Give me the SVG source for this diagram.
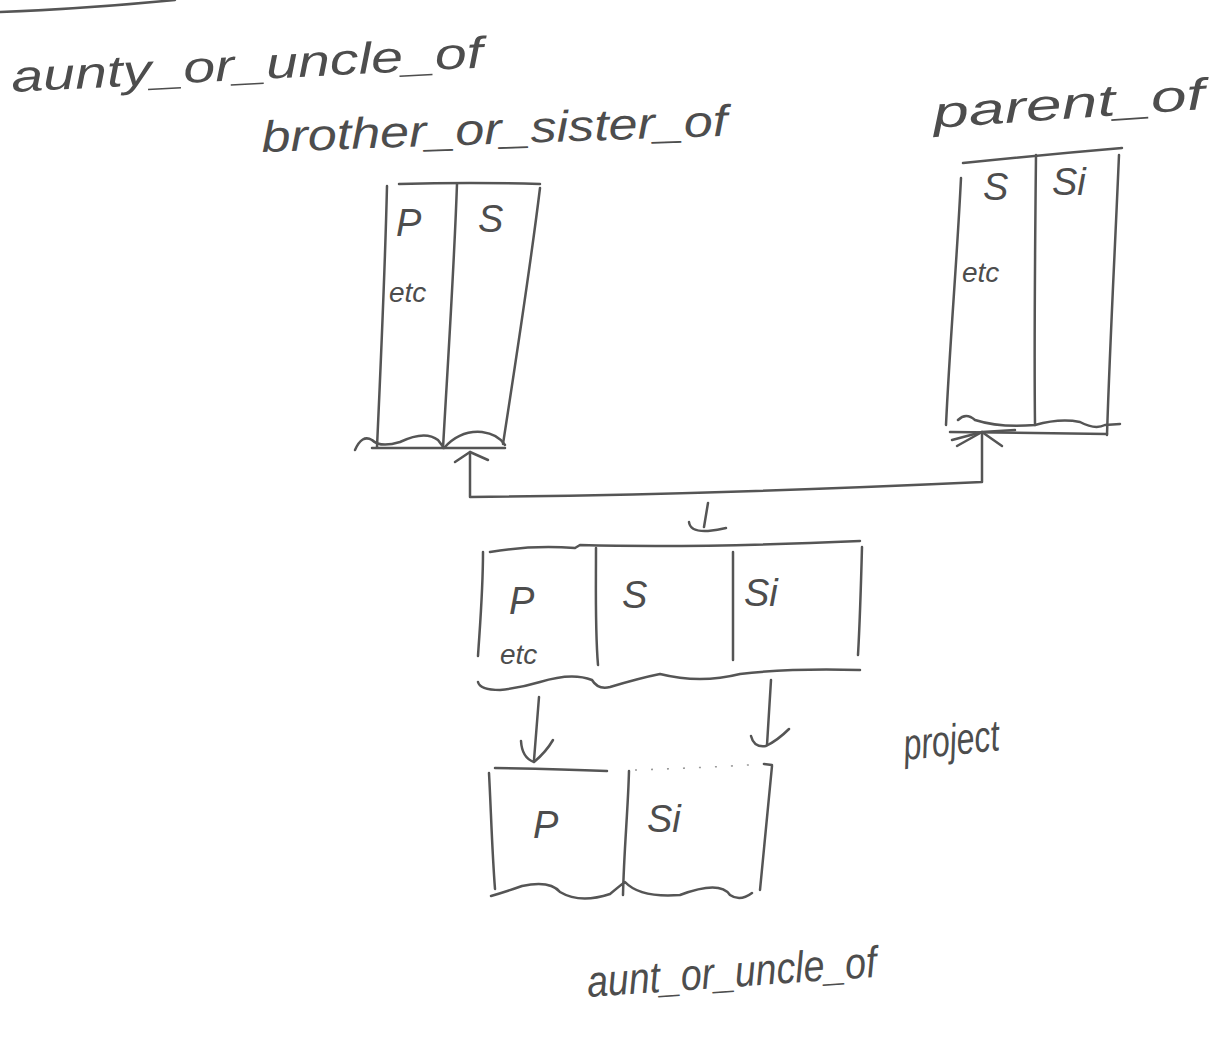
<svg xmlns="http://www.w3.org/2000/svg" width="1213" height="1048" viewBox="0 0 1213 1048">
  <style>
    .ink { fill: none; stroke: #555555; stroke-width: 2.5; stroke-linecap: round; stroke-linejoin: round; }
    .dot { fill: none; stroke: #9a9a9a; stroke-width: 1.6; stroke-dasharray: 2 14; }
    .hand { font-family: "Liberation Sans", "DejaVu Sans", sans-serif; font-style: italic; fill: #4d4d4d; }
    .title { font-size: 44px; }
    .cell { font-size: 38px; }
    .small { font-size: 28px; }
  </style>
  <rect width="1213" height="1048" fill="#ffffff"/>

  <!-- stray rule at the top -->
  <path class="ink" d="M 0 12 Q 80 9 175 0"/>

  <!-- headings -->
  <text class="hand title" x="12" y="92" textLength="472" lengthAdjust="spacingAndGlyphs" transform="rotate(-3 12 92)">aunty_or_uncle_of</text>

  <g id="brother_or_sister_of">
    <text class="hand title" x="262" y="152" textLength="466" lengthAdjust="spacingAndGlyphs" transform="rotate(-2 262 152)">brother_or_sister_of</text>
    <path class="ink" d="M 387 186 C 385 270 381 360 377 447"/>
    <path class="ink" d="M 399 184 Q 470 182 540 184"/>
    <path class="ink" d="M 457 184 C 454 270 448 360 443 448"/>
    <path class="ink" d="M 540 188 C 530 270 516 360 503 444"/>
    <path class="ink" d="M 355 450 Q 362 434 372 440 Q 380 448 400 442 Q 425 430 438 440 L 444 448 Q 460 430 482 432 Q 498 434 505 445"/>
    <path class="ink" d="M 372 448 L 505 448"/>
    <text class="hand cell" x="396" y="236">P</text>
    <text class="hand cell" x="478" y="232">S</text>
    <text class="hand small" x="389" y="302">etc</text>
  </g>

  <g id="parent_of">
    <text class="hand title" x="934" y="128" textLength="272" lengthAdjust="spacingAndGlyphs" transform="rotate(-4 934 128)">parent_of</text>
    <path class="ink" d="M 963 163 Q 1040 155 1122 148"/>
    <path class="ink" d="M 961 178 C 957 260 950 340 946 425"/>
    <path class="ink" d="M 1036 155 C 1035 250 1034 340 1035 425"/>
    <path class="ink" d="M 1119 155 C 1115 250 1110 340 1107 435"/>
    <path class="ink" d="M 958 420 Q 966 412 975 420 Q 1000 428 1035 425 Q 1060 418 1080 422 Q 1095 430 1105 425 L 1120 424"/>
    <path class="ink" d="M 950 432 L 1107 434"/>
    <text class="hand cell" x="983" y="200">S</text>
    <text class="hand cell" x="1052" y="195">Si</text>
    <text class="hand small" x="962" y="282">etc</text>
  </g>

  <g id="joined">
    <path class="ink" d="M 483 552 C 483 590 480 625 478 656"/>
    <path class="ink" d="M 490 552 Q 530 545 575 548 L 580 545 Q 700 548 860 541"/>
    <path class="ink" d="M 596 548 C 596 590 595 630 598 665"/>
    <path class="ink" d="M 733 552 C 733 590 733 625 733 660"/>
    <path class="ink" d="M 862 547 C 861 585 860 620 858 655"/>
    <path class="ink" d="M 478 682 Q 480 690 500 690 Q 520 688 540 682 Q 572 672 592 680 Q 598 690 610 687 Q 640 678 660 674 Q 700 684 740 674 Q 790 668 860 670"/>
    <text class="hand cell" x="509" y="614">P</text>
    <text class="hand cell" x="622" y="608">S</text>
    <text class="hand cell" x="744" y="606">Si</text>
    <text class="hand small" x="500" y="664">etc</text>
  </g>

  <g id="aunt_or_uncle_of">
    <path class="ink" d="M 489 773 C 491 810 492 850 495 889"/>
    <path class="ink" d="M 495 768 Q 560 769 607 771"/>
    <path class="dot" d="M 635 770 Q 700 768 765 764"/>
    <path class="ink" d="M 764 764 L 772 765"/>
    <path class="ink" d="M 629 771 C 628 810 624 850 623 895"/>
    <path class="ink" d="M 772 766 C 768 810 764 850 760 890"/>
    <path class="ink" d="M 491 896 Q 505 892 522 886 Q 550 880 560 892 Q 580 904 610 894 Q 622 884 625 882 Q 640 898 680 895 Q 720 880 730 895 Q 740 902 752 893"/>
    <text class="hand cell" x="533" y="838">P</text>
    <text class="hand cell" x="647" y="832">Si</text>
    <text class="hand title" x="588" y="997" textLength="290" lengthAdjust="spacingAndGlyphs" transform="rotate(-4 588 997)">aunt_or_uncle_of</text>
  </g>

  <text class="hand title" x="905" y="760" textLength="96" lengthAdjust="spacingAndGlyphs" transform="rotate(-6 905 760)">project</text>

  <g id="connectors">
    <!-- join branch up to both source tables -->
    <path class="ink" d="M 470 452 L 470 497 Q 700 495 982 482 L 982 432"/>
    <path class="ink" d="M 455 462 L 470 452 L 488 460"/>
    <path class="ink" d="M 957 446 L 982 432 L 1002 446"/>
    <path class="ink" d="M 952 440 L 982 432 L 1015 430"/>
    <!-- join result arrow -->
    <path class="ink" d="M 708 503 L 704 527"/>
    <path class="ink" d="M 689 522 Q 690 532 708 531 Q 718 530 726 528"/>
    <!-- projection arrows -->
    <path class="ink" d="M 539 697 L 534 760"/>
    <path class="ink" d="M 521 741 Q 522 758 534 762 Q 546 752 553 740"/>
    <path class="ink" d="M 771 680 L 767 745"/>
    <path class="ink" d="M 751 736 Q 754 748 766 746 Q 778 740 789 729"/>
  </g>
</svg>
